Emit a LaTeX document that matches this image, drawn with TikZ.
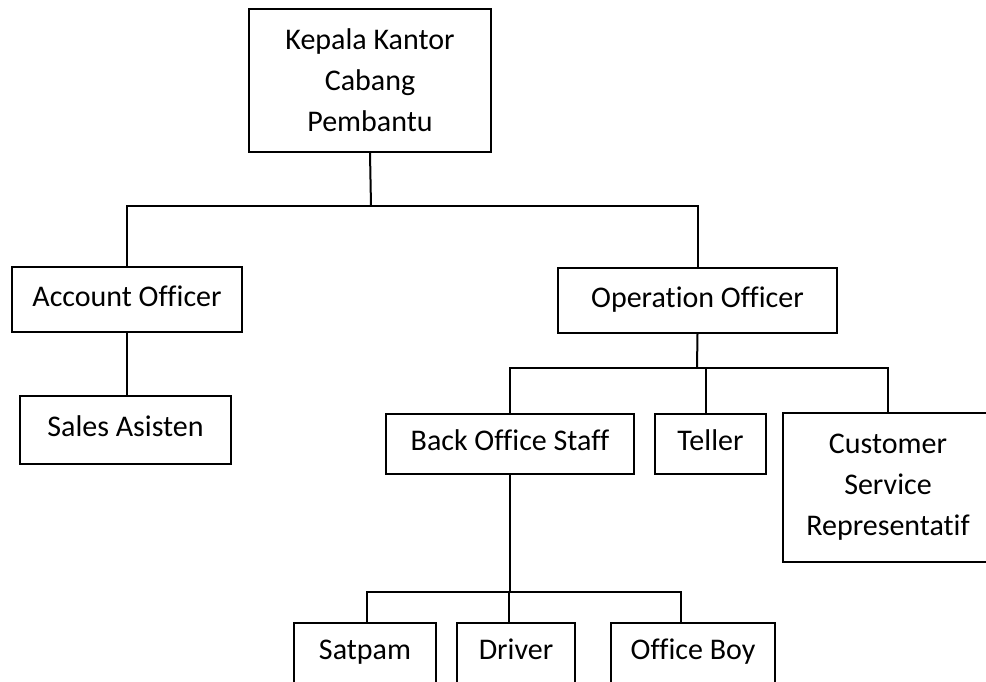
\documentclass[tikz,border=0pt]{standalone}
\usepackage{fontspec}
\setmainfont[Ligatures=NoCommon]{Carlito}
\tikzset{
  jabatan/.style={draw, rectangle, line width=2pt, inner sep=0pt, align=center,
    font=\fontsize{30}{41}\selectfont},
  satubaris/.style={jabatan, text height=20, text depth=7},
  garis/.style={line width=2pt}
}
\begin{document}
\begin{tikzpicture}[x=1pt, y=-1pt]
\useasboundingbox (0,0) rectangle (986,682);
\clip (0,0) rectangle (986,682);
\node[jabatan, minimum width=242, minimum height=143] (kk) at (370,80.5) {Kepala Kantor\\Cabang\\Pembantu};
\node[satubaris, minimum width=230, minimum height=65] (ao) at (127,299.5) {Account Officer};
\node[satubaris, minimum width=211, minimum height=68] (sa) at (125.5,430) {Sales Asisten};
\node[satubaris, minimum width=279, minimum height=65] (oo) at (697.5,300.5) {Operation Officer};
\node[satubaris, minimum width=248, minimum height=60] (bos) at (510,444) {Back Office Staff};
\node[satubaris, minimum width=111, minimum height=60] (tl) at (710.5,444) {Teller};
\node[jabatan, minimum width=210, minimum height=149] (cs) at (888,487.5) {Customer\\Service\\Representatif};
\node[satubaris, minimum width=142, minimum height=60] (sp) at (365,653) {Satpam};
\node[satubaris, minimum width=118, minimum height=60] (dr) at (516,653) {Driver};
\node[satubaris, minimum width=164, minimum height=60] (ob) at (693,653) {Office Boy};
\coordinate (j1) at (371,206);
\coordinate (j2) at (697,368);
\coordinate (j3) at (510,592);
\draw[garis] (kk.south) -- (j1);
\draw[garis] (ao.north) |- (j1 -| oo.north) -- (oo.north);
\draw[garis] (ao.south) -- (ao.south |- sa.north);
\draw[garis] (oo.south) -- (j2);
\draw[garis] (bos.north) |- (j2 -| cs.north) -- (cs.north);
\draw[garis] ([xshift=-5]tl.north) -- ([xshift=-5]tl.north |- j2);
\draw[garis] (bos.south) -- (j3);
\draw[garis] ([xshift=2]sp.north) |- ([xshift=-12]ob.north |- j3) -- ([xshift=-12]ob.north);
\draw[garis] ([xshift=-7]dr.north) -- ([xshift=-7]dr.north |- j3);
\end{tikzpicture}
\end{document}
